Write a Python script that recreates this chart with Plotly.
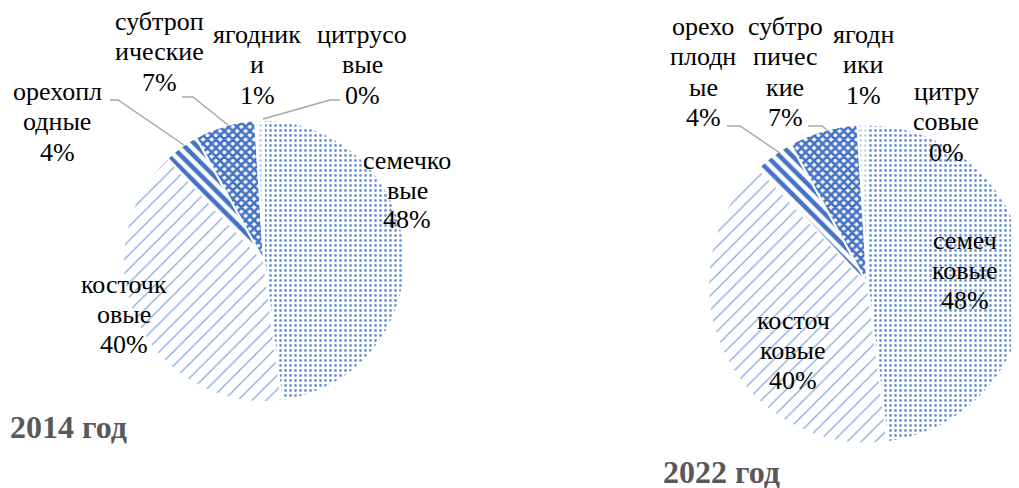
import plotly.graph_objects as go

W, H = 1019, 488
OFF = 8  # page offset of the figure inside the browser window

categories = ["семечковые", "косточковые", "орехоплодные", "субтропические", "ягодники", "цитрусовые"]
values_2014 = [48, 40, 4, 7, 1, 0]
values_2022 = [48, 40, 4, 7, 1, 0]

# wrapped label text as in the original
wrap_2014 = ["семечко<br>вые", "косточк<br>овые", "орехопл<br>одные", "субтроп<br>ические", "ягодник<br>и", "цитрусо<br>вые"]
wrap_2022 = ["семеч<br>ковые", "косточ<br>ковые", "орехо<br>плодн<br>ые", "субтро<br>пичес<br>кие", "ягодн<br>ики", "цитру<br>совые"]

# label block centres (screen px) for each slice
lab_pos_2014 = [(407, 190), (124, 314), (57, 122), (159, 52), (257, 65), (362, 65)]
lab_pos_2022 = [(965, 270), (793, 350), (703, 72), (785, 72), (863, 65), (946, 122)]

pattern_shapes = [".", "/", "\\", "x", ".", "."]
pattern_fg = ["#6A95D8", "#7FA7DD", "#4472C4", "#4472C4", "#B4C8EA", "#B4C8EA"]
pattern_size = [5, 10, 9, 6, 5, 5]
pattern_solidity = [0.25, 0.12, 0.5, 0.68, 0.2, 0.2]


def px(x):
    return (x - OFF) / W


def py(y):
    return 1 - (y - OFF) / H


def pie(values, dom):
    return go.Pie(
        labels=categories,
        values=values,
        sort=False,
        direction="clockwise",
        rotation=0,
        textinfo="none",
        showlegend=False,
        domain=dom,
        marker=dict(
            colors=["white"] * len(values),
            line=dict(color="white", width=2),
            pattern=dict(
                shape=pattern_shapes,
                fgcolor=pattern_fg,
                bgcolor="white",
                size=pattern_size,
                solidity=pattern_solidity,
                fillmode="replace",
            ),
        ),
    )


fig = go.Figure()
fig.add_trace(pie(values_2014, dict(x=[px(123), px(405)], y=[py(402), py(120)])))
fig.add_trace(pie(values_2022, dict(x=[px(708), 1.0], y=[py(445), py(123)])))

annotations = []
SERIF = "Liberation Serif, Times New Roman, serif"
FONT = dict(family=SERIF, size=26, color="#000000")
LINE = 30


def add_labels(values, wraps, positions):
    total = sum(values)
    for v, w, (cx, cy) in zip(values, wraps, positions):
        lines = w.split("<br>") + [f"{round(v / total * 100)}%"]
        n = len(lines)
        for i, t in enumerate(lines):
            y = cy + (i - (n - 1) / 2) * LINE
            annotations.append(dict(
                x=px(cx), y=py(y), xref="paper", yref="paper",
                text=t, showarrow=False, xanchor="center", yanchor="middle",
                font=FONT,
            ))


add_labels(values_2014, wrap_2014, lab_pos_2014)
add_labels(values_2022, wrap_2022, lab_pos_2022)

TFONT = dict(family=SERIF, size=32, color="#595959")
annotations.append(dict(x=px(8), y=py(427), xref="paper", yref="paper", text="<b>2014 год</b>",
                        showarrow=False, xanchor="left", yanchor="middle", font=TFONT))
annotations.append(dict(x=px(782), y=py(472), xref="paper", yref="paper", text="<b>2022 год</b>",
                        showarrow=False, xanchor="right", yanchor="middle", font=TFONT))

# leader lines (screen px)
leaders = [
    [(182, 97), (193, 97), (228, 125)],
    [(263, 119), (330, 100), (340, 100)],
    [(110, 100), (118, 100), (184, 145)],
    [(727, 126), (740, 126), (780, 153)],
    [(808, 126), (822, 126), (827, 130)],
]
shapes = []
for pts in leaders:
    path = "M " + " L ".join(f"{px(x)},{py(y)}" for x, y in pts)
    shapes.append(dict(type="path", path=path, xref="paper", yref="paper",
                       line=dict(color="#A6A6A6", width=1.5)))

fig.update_layout(
    width=W, height=H,
    margin=dict(l=0, r=0, t=0, b=0),
    paper_bgcolor="white", plot_bgcolor="white",
    annotations=annotations,
    shapes=shapes,
)

fig.write_html("out.html")
